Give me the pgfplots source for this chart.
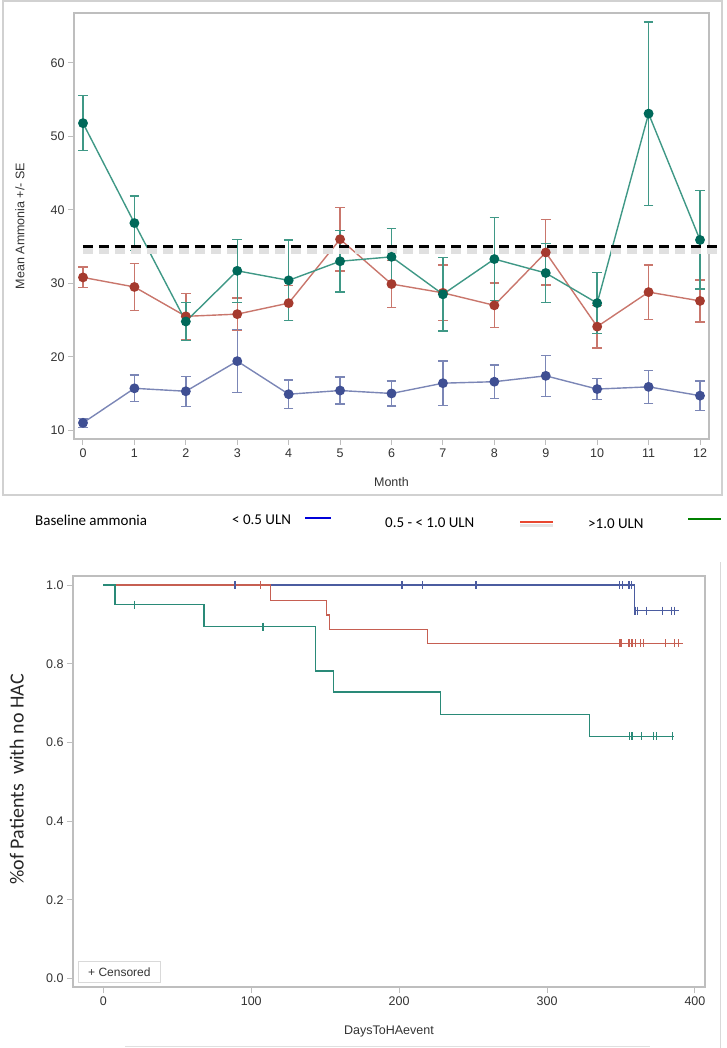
\documentclass[border=0pt]{standalone}
\usepackage{pgfplots}
\pgfplotsset{compat=1.18}
\usepackage{pgfplotstable}
\usepackage{fontspec}
\setmainfont{Liberation Sans}
\newfontfamily\calibri{Carlito}

\definecolor{bluemk}{HTML}{3F4F93}
\definecolor{blueln}{HTML}{7B86B6}
\definecolor{redmk}{HTML}{A53A2E}
\definecolor{redln}{HTML}{C9766C}
\definecolor{grnmk}{HTML}{00695A}
\definecolor{grnln}{HTML}{3F9886}
\definecolor{kmblue}{HTML}{4B5CA0}
\definecolor{kmred}{HTML}{C65F52}
\definecolor{kmgrn}{HTML}{2A8A78}
\definecolor{frame}{HTML}{BEBEBE}
\definecolor{txt}{HTML}{333333}

% month, mean ammonia, SE
\pgfplotstableread{
m  v     se
0  11.0  0.6
1  15.7  1.8
2  15.3  2.05
3  19.4  4.3
4  14.9  1.95
5  15.4  1.85
6  15.0  1.7
7  16.4  3.0
8  16.6  2.3
9  17.4  2.8
10 15.6  1.45
11 15.9  2.25
12 14.7  2.0
}\lowtab
\pgfplotstableread{
m  v     se
0  30.8  1.4
1  29.5  3.2
2  25.5  3.15
3  25.8  2.2
4  27.3  2.4
5  36.0  4.3
6  29.9  3.2
7  28.7  3.8
8  27.0  3.05
9  34.2  4.45
10 24.1  2.9
11 28.8  3.7
12 27.6  2.85
}\midtab
\pgfplotstableread{
m  v     se
0  51.8  3.75
1  38.2  3.7
2  24.8  2.6
3  31.7  4.3
4  30.4  5.5
5  33.0  4.2
6  33.6  3.9
7  28.5  5.0
8  33.3  5.65
9  31.4  4.05
10 27.3  4.15
11 53.1  12.5
12 35.9  6.7
}\hightab

\pgfplotsset{
  sasaxis/.style={
    scale only axis,
    anchor=north west,
    axis line style={frame, line width=1.2pt},
    tick style={frame, line width=1pt},
    tick align=outside,
    major tick length=6pt,
    tick pos=left,
    ticklabel style={font=\fontsize{12.5}{14}\selectfont, text=txt},
    /pgf/number format/assume math mode=true,
  },
  meanplot/.style n args={2}{
    color=#2, line width=1.4pt, mark=*, mark size=4.2pt,
    mark options={solid, draw=#1, fill=#1},
    error bars/.cd, y dir=both, y explicit,
    error bar style={#2, line width=1.4pt},
    error mark options={rotate=90, #2, mark size=4.8pt, line width=1.4pt},
  },
}

\begin{document}
\begin{tikzpicture}
\path[use as bounding box] (0pt,0pt) rectangle (726pt,-1048pt);
\draw[black!18, line width=1.2pt] (3pt,-1pt) rectangle (722pt,-495pt);

% ---------- mean ammonia by month ----------
\begin{axis}[sasaxis,
  at={(74pt,-13pt)}, width=635pt, height=426pt,
  xmin=-0.175, xmax=12.175, ymin=8.8, ymax=66.8,
  xtick={0,...,12}, ytick={10,20,...,60},
  clip=false,
  xlabel={Month}, ylabel={Mean Ammonia +/- SE},
  every axis x label/.style={at={(axis description cs:0.5,-0.101)}, anchor=center,
    font=\fontsize{12.5}{14}\selectfont, text=txt},
  every axis y label/.style={at={(axis description cs:-0.085,0.5)}, anchor=center, rotate=90,
    font=\fontsize{12.5}{14}\selectfont, text=txt},
]
\addplot[meanplot={bluemk}{blueln}] table[x=m, y=v, y error=se]{\lowtab};
\addplot[meanplot={redmk}{redln}] table[x=m, y=v, y error=se]{\midtab};
\addplot[meanplot={grnmk}{grnln}] table[x=m, y=v, y error=se]{\hightab};
% reference line with its soft shadow
\addplot[black!12, line width=6pt, dash pattern=on 10pt off 6pt, yshift=-4pt] coordinates {(0,35) (12.43,35)};
\addplot[black, line width=2.4pt, dash pattern=on 10pt off 6pt] coordinates {(0,35) (12.43,35)};
\end{axis}

% ---------- legend row ----------
\begin{scope}[font=\calibri\fontsize{15}{17}\selectfont]
\node[anchor=west, inner sep=0pt] at (35pt,-520pt) {Baseline ammonia};
\node[anchor=west, inner sep=0pt] at (232pt,-520pt) {< 0.5 ULN};
\draw[blue!85!black, line width=2pt] (305pt,-518pt) -- (331pt,-518pt);
\node[anchor=west, inner sep=0pt] at (385pt,-523pt) {0.5 - < 1.0 ULN};
\draw[black!10, line width=3pt] (520pt,-525pt) -- (553pt,-525pt);
\draw[red!60!brown!90, line width=2pt] (520pt,-522pt) -- (553pt,-522pt);
\node[anchor=west, inner sep=0pt] at (588pt,-524pt) {>1.0 ULN};
\draw[green!50!black, line width=2pt] (688pt,-519pt) -- (721pt,-519pt);
\end{scope}

% ---------- Kaplan-Meier ----------
\draw[black!15, line width=1pt] (720pt,-562pt) -- (720pt,-1048pt);
\draw[black!12, line width=1pt] (125pt,-1046pt) -- (650pt,-1046pt);
\begin{axis}[sasaxis,
  at={(73pt,-576pt)}, width=632pt, height=411pt,
  xmin=-20.5, xmax=406.8, ymin=-0.022, ymax=1.023,
  xtick={0,100,...,400}, ytick={0,0.2,...,1},
  yticklabel style={/pgf/number format/.cd, fixed, fixed zerofill, precision=1},
  xlabel={DaysToHAevent}, ylabel={\%of Patients\ \ with no HAC},
  every axis x label/.style={at={(axis description cs:0.5,-0.109)}, anchor=center,
    font=\fontsize{12.5}{14}\selectfont, text=txt},
  every axis y label/.style={at={(axis description cs:-0.089,0.505)}, anchor=center, rotate=90,
    font=\calibri\fontsize{20}{22}\selectfont, text=black!85},
]
\addplot[const plot, kmblue, line width=1.3pt] coordinates {(0,1) (359,0.935) (389,0.935)};
\addplot[only marks, mark=|, mark size=4pt, kmblue, mark options={line width=1.2pt}] coordinates {
  (89,1) (202,1) (216,1) (252,1) (349,1) (351,1) (355,1) (356,1) (357,1)
  (359,0.935) (360,0.935) (361,0.935) (367,0.935) (378,0.935) (384,0.935) (386,0.935)};
\addplot[const plot, kmred, line width=1.3pt] coordinates {(0,1) (113,0.961) (151,0.924) (153,0.887) (219,0.852) (392,0.852)};
\addplot[only marks, mark=|, mark size=4pt, kmred, mark options={line width=1.2pt}] coordinates {
  (106,1) (349,0.852) (350,0.852) (355,0.852) (356,0.852) (357,0.852) (358,0.852)
  (360,0.852) (363,0.852) (365,0.852) (380,0.852) (386,0.852) (389,0.852)};
\addplot[const plot, kmgrn, line width=1.5pt] coordinates {(0,1) (8,0.95) (68,0.894) (143.5,0.782) (155.6,0.728) (228,0.671) (328.6,0.615) (386,0.615)};
\addplot[only marks, mark=|, mark size=4pt, kmgrn, mark options={line width=1.2pt}] coordinates {
  (21,0.95) (108,0.894) (356,0.615) (357,0.615) (358,0.615) (364,0.615) (372,0.615) (374,0.615) (385,0.615)};
\end{axis}
\node[draw=black!15, fill=white, line width=0.8pt, anchor=south west, minimum width=82pt, minimum height=21pt,
  font=\fontsize{12}{14}\selectfont, text=txt] at (78pt,-983pt) {+ Censored};
\end{tikzpicture}
\end{document}
